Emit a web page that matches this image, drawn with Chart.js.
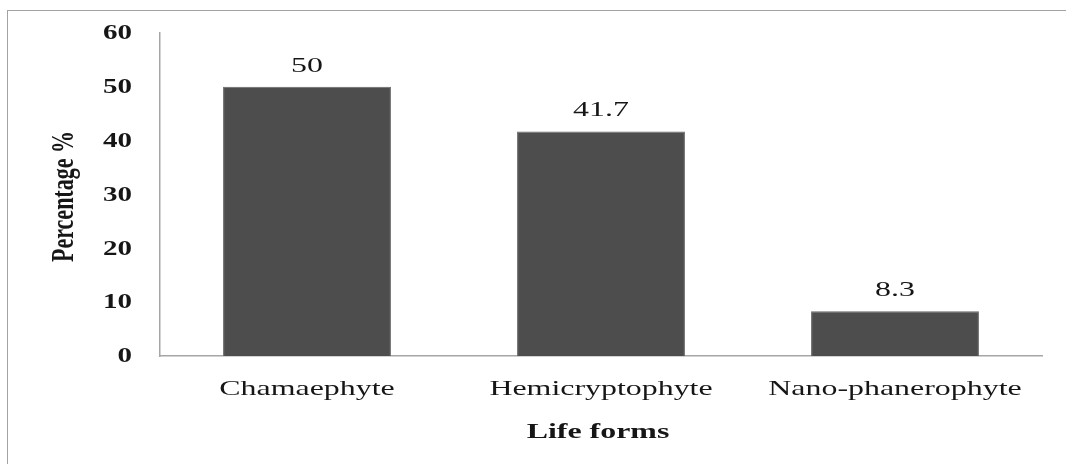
<!DOCTYPE html>
<html>
<head>
<meta charset="utf-8">
<script src="https://cdn.jsdelivr.net/npm/chart.js@4.4.0/dist/chart.umd.min.js"></script>
<style>
  html, body { margin: 0; padding: 0; background: #fff; }
  #moldura { position: relative; width: 1066px; height: 464px; overflow: hidden; }
  #borda { position: absolute; left: 7px; top: 10px; width: 1100px; height: 500px; border: 1.5px solid #a3a3a3; }
  canvas { position: absolute; left: 0; top: 0; }
</style>
</head>
<body>
<div id="moldura">
  <div id="borda"></div>
  <canvas id="grafico" width="1066" height="464"></canvas>
</div>
<script>
const formasDeVida = ['Chamaephyte', 'Hemicryptophyte', 'Nano-phanerophyte'];
const percentagens = [50, 41.7, 8.3];
const ticksY = [0, 10, 20, 30, 40, 50, 60];
const tituloY = 'Percentage %';
const tituloX = 'Life forms';

const fonteTexto = '"Liberation Serif"';
const esticar = 1.45; // o original esta esticado na horizontal

function textoEsticado(ctx, texto, x, y, fonte, alinhamento) {
  ctx.save();
  ctx.translate(x, y);
  ctx.scale(esticar, 1);
  ctx.font = fonte;
  ctx.fillStyle = '#161616';
  ctx.textAlign = alinhamento || 'center';
  ctx.textBaseline = 'middle';
  ctx.fillText(texto, 0, 0);
  ctx.restore();
}

const rotulos = {
  id: 'rotulos',
  afterDatasetsDraw(grafico) {
    const ctx = grafico.ctx;
    const meta = grafico.getDatasetMeta(0);
    meta.data.forEach((barra, i) => {
      textoEsticado(ctx, String(percentagens[i]), barra.x, barra.y - 21, '22px ' + fonteTexto);
    });
  },
  afterDraw(grafico) {
    const ctx = grafico.ctx;
    const area = grafico.chartArea;
    const escalaX = grafico.scales.x;
    const escalaY = grafico.scales.y;

    // rotulos do eixo y
    escalaY.ticks.forEach(t => {
      textoEsticado(ctx, String(t.value), 132, escalaY.getPixelForValue(t.value) + 1, 'bold 20px ' + fonteTexto, 'right');
    });

    // rotulos do eixo x
    formasDeVida.forEach((forma, i) => {
      textoEsticado(ctx, forma, escalaX.getPixelForTick(i), 389, '22px ' + fonteTexto);
    });

    // titulo do eixo x
    textoEsticado(ctx, tituloX, (area.left + area.right) / 2 - 3, 432, 'bold 22px ' + fonteTexto);

    // titulo do eixo y (girado)
    ctx.save();
    ctx.translate(65, (area.top + area.bottom) / 2 + 2);
    ctx.rotate(-Math.PI / 2);
    ctx.scale(1, esticar);
    ctx.font = 'bold 22px ' + fonteTexto;
    ctx.fillStyle = '#161616';
    ctx.textAlign = 'center';
    ctx.textBaseline = 'middle';
    ctx.fillText(tituloY, 0, 0);
    ctx.restore();
  }
};

const dadosGrafico = document.getElementById('grafico');

const graficoFormas = new Chart(dadosGrafico, {
  type: 'bar',
  data: {
    labels: formasDeVida,
    datasets: [{
      label: tituloY,
      data: percentagens,
      backgroundColor: '#4d4d4d',
      borderColor: '#666',
      borderWidth: 1,
      categoryPercentage: 1,
      barPercentage: 0.571
    }]
  },
  options: {
    responsive: false,
    animation: false,
    devicePixelRatio: 1,
    layout: { padding: { top: 33, right: 24, bottom: 0, left: 0 } },
    plugins: {
      legend: { display: false },
      tooltip: { enabled: false }
    },
    scales: {
      x: {
        grid: { display: false, drawTicks: false },
        border: { display: true, color: '#a6a6a6', width: 1.5 },
        ticks: { display: false },
        afterFit(escala) { escala.height = 108; }
      },
      y: {
        min: 0,
        max: 60,
        grid: { display: false, drawTicks: false },
        border: { display: true, color: '#a6a6a6', width: 1.5 },
        ticks: { display: false },
        afterBuildTicks(escala) {
          escala.ticks = ticksY.map(v => ({ value: v }));
        },
        afterFit(escala) { escala.width = 160; }
      }
    }
  },
  plugins: [rotulos]
});
</script>
</body>
</html>
